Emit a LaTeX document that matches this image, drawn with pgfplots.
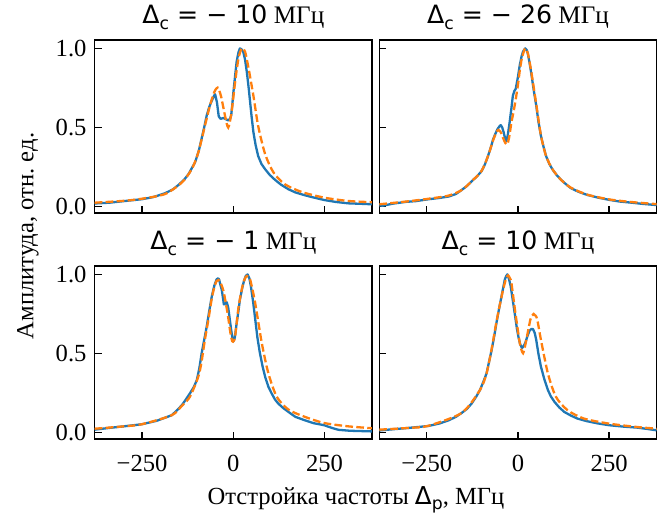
\documentclass[border=0pt]{standalone}
\usepackage{fontspec}
\setmainfont{Liberation Serif}
\newfontfamily\dv{DejaVu Sans}
\usepackage{pgfplots}
\pgfplotsset{compat=1.18}
\frenchspacing
\definecolor{cA}{HTML}{1F77B4}
\definecolor{cB}{HTML}{FF7F0E}
\newcommand{\bigf}{\fontsize{24.7}{29}\selectfont}
\newcommand{\titf}{\fontsize{25.3}{29}\selectfont}
\newcommand{\Dsub}[1]{{\dv Δ\raisebox{-0.22em}{\fontsize{17.3}{18}\selectfont #1}}}
\pgfplotsset{
  every axis title shift=0pt,
  panel/.style={
    scale only axis, width=277.3bp, height=173bp,
    xmin=-380, xmax=380, ymin=-0.04, ymax=1.053,
    axis line style={line width=1.5bp},
    every tick/.style={line width=1.5bp, black},
    major tick length=7bp, tick align=inside, tick pos=left,
    xtick={-250,0,250}, ytick={0,0.5,1},
    xticklabels={−250,0,250}, yticklabels={0.0,0.5,1.0},
    every tick label/.append style={font=\bigf},
    xticklabel style={anchor=north, inner sep=0pt, yshift=-16bp},
    yticklabel style={anchor=east, inner sep=0pt, xshift=-8bp},
    title style={at={(0.5,1)}, anchor=base, yshift=16bp, inner sep=0pt, font=\titf},
    clip=true,
  },
  exp/.style={color=cA, line width=2.3bp, line join=round, no marks},
  th/.style={color=cB, line width=2.3bp, no marks, smooth, tension=0.45, dash pattern=on 7.7bp off 3.3bp},
}
\begin{document}
\begin{tikzpicture}[font=\bigf]
\path[use as bounding box] (0,0) rectangle (670bp,517bp);
% top left
\begin{axis}[panel, at={(94.7bp,304bp)}, anchor=south west, xticklabels={},
  title={\Dsub{c}{\dv\ = − 10} МГц}]
\addplot[exp] coordinates {(-380,0.02) (-340,0.025) (-300,0.035) (-251,0.047) (-220,0.06) (-187,0.085) (-165,0.11) (-151,0.136) (-135,0.17) (-123,0.205) (-105,0.28) (-95,0.35) (-87,0.43) (-80,0.5) (-73,0.576) (-66,0.63) (-59,0.67) (-53,0.70) (-50,0.71) (-45,0.66) (-40,0.57) (-35,0.555) (-27,0.56) (-20,0.552) (-14,0.545) (-9,0.555) (-6,0.576) (-3,0.64) (0,0.72) (5,0.83) (9,0.915) (14,0.975) (18,1.0) (22,0.995) (27,0.98) (32,0.93) (37,0.85) (42,0.75) (46,0.66) (50,0.57) (55,0.47) (61,0.39) (68,0.32) (77,0.27) (87,0.237) (100,0.2) (114,0.17) (130,0.14) (151,0.11) (170,0.09) (196,0.072) (220,0.058) (249,0.042) (280,0.03) (315,0.021) (350,0.018) (380,0.015)};
\addplot[th] coordinates {(-380,0.025) (-300,0.037) (-251,0.05) (-187,0.08) (-141,0.153) (-114,0.237) (-96,0.343) (-78,0.51) (-64,0.64) (-52,0.725) (-43,0.752) (-34,0.70) (-23,0.576) (-14,0.50) (-5,0.597) (5,0.79) (14,0.936) (23,1.0) (32,0.98) (41,0.883) (55,0.70) (68,0.51) (87,0.333) (110,0.216) (141,0.142) (187,0.093) (249,0.057) (315,0.036) (380,0.028)};
\end{axis}
% top right
\begin{axis}[panel, at={(379.3bp,304bp)}, anchor=south west, xticklabels={}, yticklabels={},
  title={\Dsub{c}{\dv\ = − 26} МГц}]
\addplot[exp] coordinates {(-380,0.008) (-371,0.006) (-340,0.02) (-308,0.03) (-280,0.035) (-245,0.047) (-215,0.055) (-190,0.064) (-170,0.08) (-154,0.106) (-140,0.13) (-127,0.16) (-113,0.19) (-100,0.223) (-90,0.27) (-82,0.32) (-75,0.37) (-68,0.426) (-62,0.46) (-56,0.49) (-50,0.51) (-47,0.515) (-43,0.5) (-39,0.468) (-35,0.43) (-32,0.415) (-28,0.45) (-23,0.53) (-18,0.62) (-14,0.70) (-10,0.73) (-6,0.745) (0,0.82) (5,0.894) (10,0.95) (14,0.98) (20,1.0) (24,0.99) (27,0.968) (31,0.92) (36,0.85) (43,0.74) (50,0.64) (56,0.54) (63,0.447) (70,0.38) (77,0.32) (86,0.27) (95,0.234) (106,0.2) (118,0.17) (130,0.145) (145,0.117) (165,0.095) (190,0.074) (220,0.057) (250,0.043) (280,0.032) (308,0.026) (340,0.018) (380,0.01)};
\addplot[th] coordinates {(-380,0.015) (-308,0.032) (-245,0.05) (-190,0.07) (-154,0.105) (-127,0.16) (-100,0.225) (-82,0.32) (-68,0.42) (-60,0.465) (-54,0.485) (-47,0.47) (-40,0.43) (-34,0.40) (-29,0.394) (-24,0.44) (-18,0.53) (-12,0.60) (-6,0.68) (0,0.77) (5,0.86) (10,0.93) (14,0.965) (20,1.0) (27,0.97) (36,0.86) (50,0.65) (63,0.45) (77,0.32) (95,0.235) (118,0.17) (145,0.12) (190,0.076) (250,0.046) (308,0.03) (380,0.016)};
\end{axis}
% bottom left
\begin{axis}[panel, at={(94.7bp,78bp)}, anchor=south west,
  title={\Dsub{c}{\dv\ = − 1} МГц}]
\addplot[exp] coordinates {(-380,0.019) (-340,0.03) (-300,0.04) (-251,0.053) (-210,0.075) (-169,0.11) (-155,0.14) (-141,0.174) (-130,0.21) (-119,0.248) (-108,0.29) (-100,0.333) (-93,0.41) (-87,0.50) (-80,0.585) (-73,0.67) (-66,0.77) (-59,0.862) (-52,0.93) (-46,0.968) (-42,0.975) (-39,0.968) (-35,0.93) (-32,0.905) (-29,0.86) (-26,0.81) (-22,0.815) (-18,0.824) (-14,0.79) (-10,0.72) (-6,0.65) (-2,0.59) (0,0.576) (4,0.6) (9,0.69) (14,0.77) (18,0.84) (24,0.91) (29,0.958) (34,0.99) (39,1.0) (44,0.975) (48,0.926) (54,0.83) (59,0.735) (66,0.6) (73,0.50) (80,0.42) (87,0.354) (96,0.29) (105,0.248) (114,0.21) (123,0.184) (137,0.155) (151,0.131) (170,0.1) (196,0.078) (220,0.06) (249,0.047) (270,0.03) (288,0.018) (320,0.012) (350,0.01) (380,0.008)};
\addplot[th] coordinates {(-380,0.025) (-300,0.04) (-251,0.053) (-169,0.11) (-141,0.17) (-119,0.227) (-96,0.354) (-87,0.45) (-78,0.587) (-68,0.72) (-59,0.85) (-52,0.92) (-46,0.958) (-41,0.965) (-37,0.958) (-27,0.894) (-16,0.756) (-8,0.63) (-3,0.578) (1,0.58) (5,0.61) (14,0.79) (25,0.926) (32,0.975) (37,0.99) (41,0.985) (46,0.968) (59,0.83) (78,0.566) (96,0.375) (119,0.227) (151,0.146) (196,0.10) (249,0.061) (315,0.04) (380,0.028)};
\end{axis}
% bottom right
\begin{axis}[panel, at={(379.3bp,78bp)}, anchor=south west, yticklabels={},
  title={\Dsub{c}{\dv\ = 10} МГц}]
\addplot[exp] coordinates {(-380,0.014) (-340,0.022) (-300,0.03) (-246,0.042) (-215,0.058) (-190,0.078) (-170,0.1) (-154,0.125) (-140,0.15) (-127,0.184) (-115,0.225) (-104,0.27) (-95,0.32) (-86,0.375) (-79,0.45) (-72,0.523) (-65,0.61) (-59,0.693) (-52,0.78) (-45,0.862) (-40,0.92) (-36,0.968) (-32,0.99) (-29,1.0) (-25,0.975) (-20,0.926) (-15,0.85) (-9,0.756) (-3,0.66) (2,0.597) (6,0.56) (11,0.534) (15,0.545) (20,0.566) (26,0.61) (32,0.646) (37,0.655) (41,0.655) (46,0.63) (50,0.587) (56,0.5) (63,0.417) (72,0.34) (82,0.27) (90,0.23) (100,0.195) (113,0.16) (127,0.131) (145,0.108) (163,0.089) (190,0.072) (220,0.058) (250,0.047) (290,0.038) (326,0.032) (350,0.025) (380,0.015)};
\addplot[th] coordinates {(-380,0.019) (-300,0.03) (-246,0.043) (-154,0.125) (-104,0.27) (-86,0.375) (-72,0.53) (-59,0.70) (-43,0.88) (-33,0.97) (-27,0.994) (-22,0.975) (-18,0.947) (-7,0.756) (5,0.566) (10,0.52) (14,0.502) (18,0.53) (23,0.587) (34,0.714) (39,0.74) (43,0.75) (48,0.74) (53,0.714) (63,0.587) (82,0.375) (104,0.227) (136,0.142) (181,0.089) (250,0.057) (326,0.036) (380,0.025)};
\end{axis}
\node[anchor=base, inner sep=0pt] at (356bp,13bp) {Отстройка частоты \Dsub{p}, МГц};
\node[rotate=90, anchor=center, inner sep=0pt] at (28bp,281bp) {Амплитуда, отн. ед.};
\end{tikzpicture}
\end{document}
